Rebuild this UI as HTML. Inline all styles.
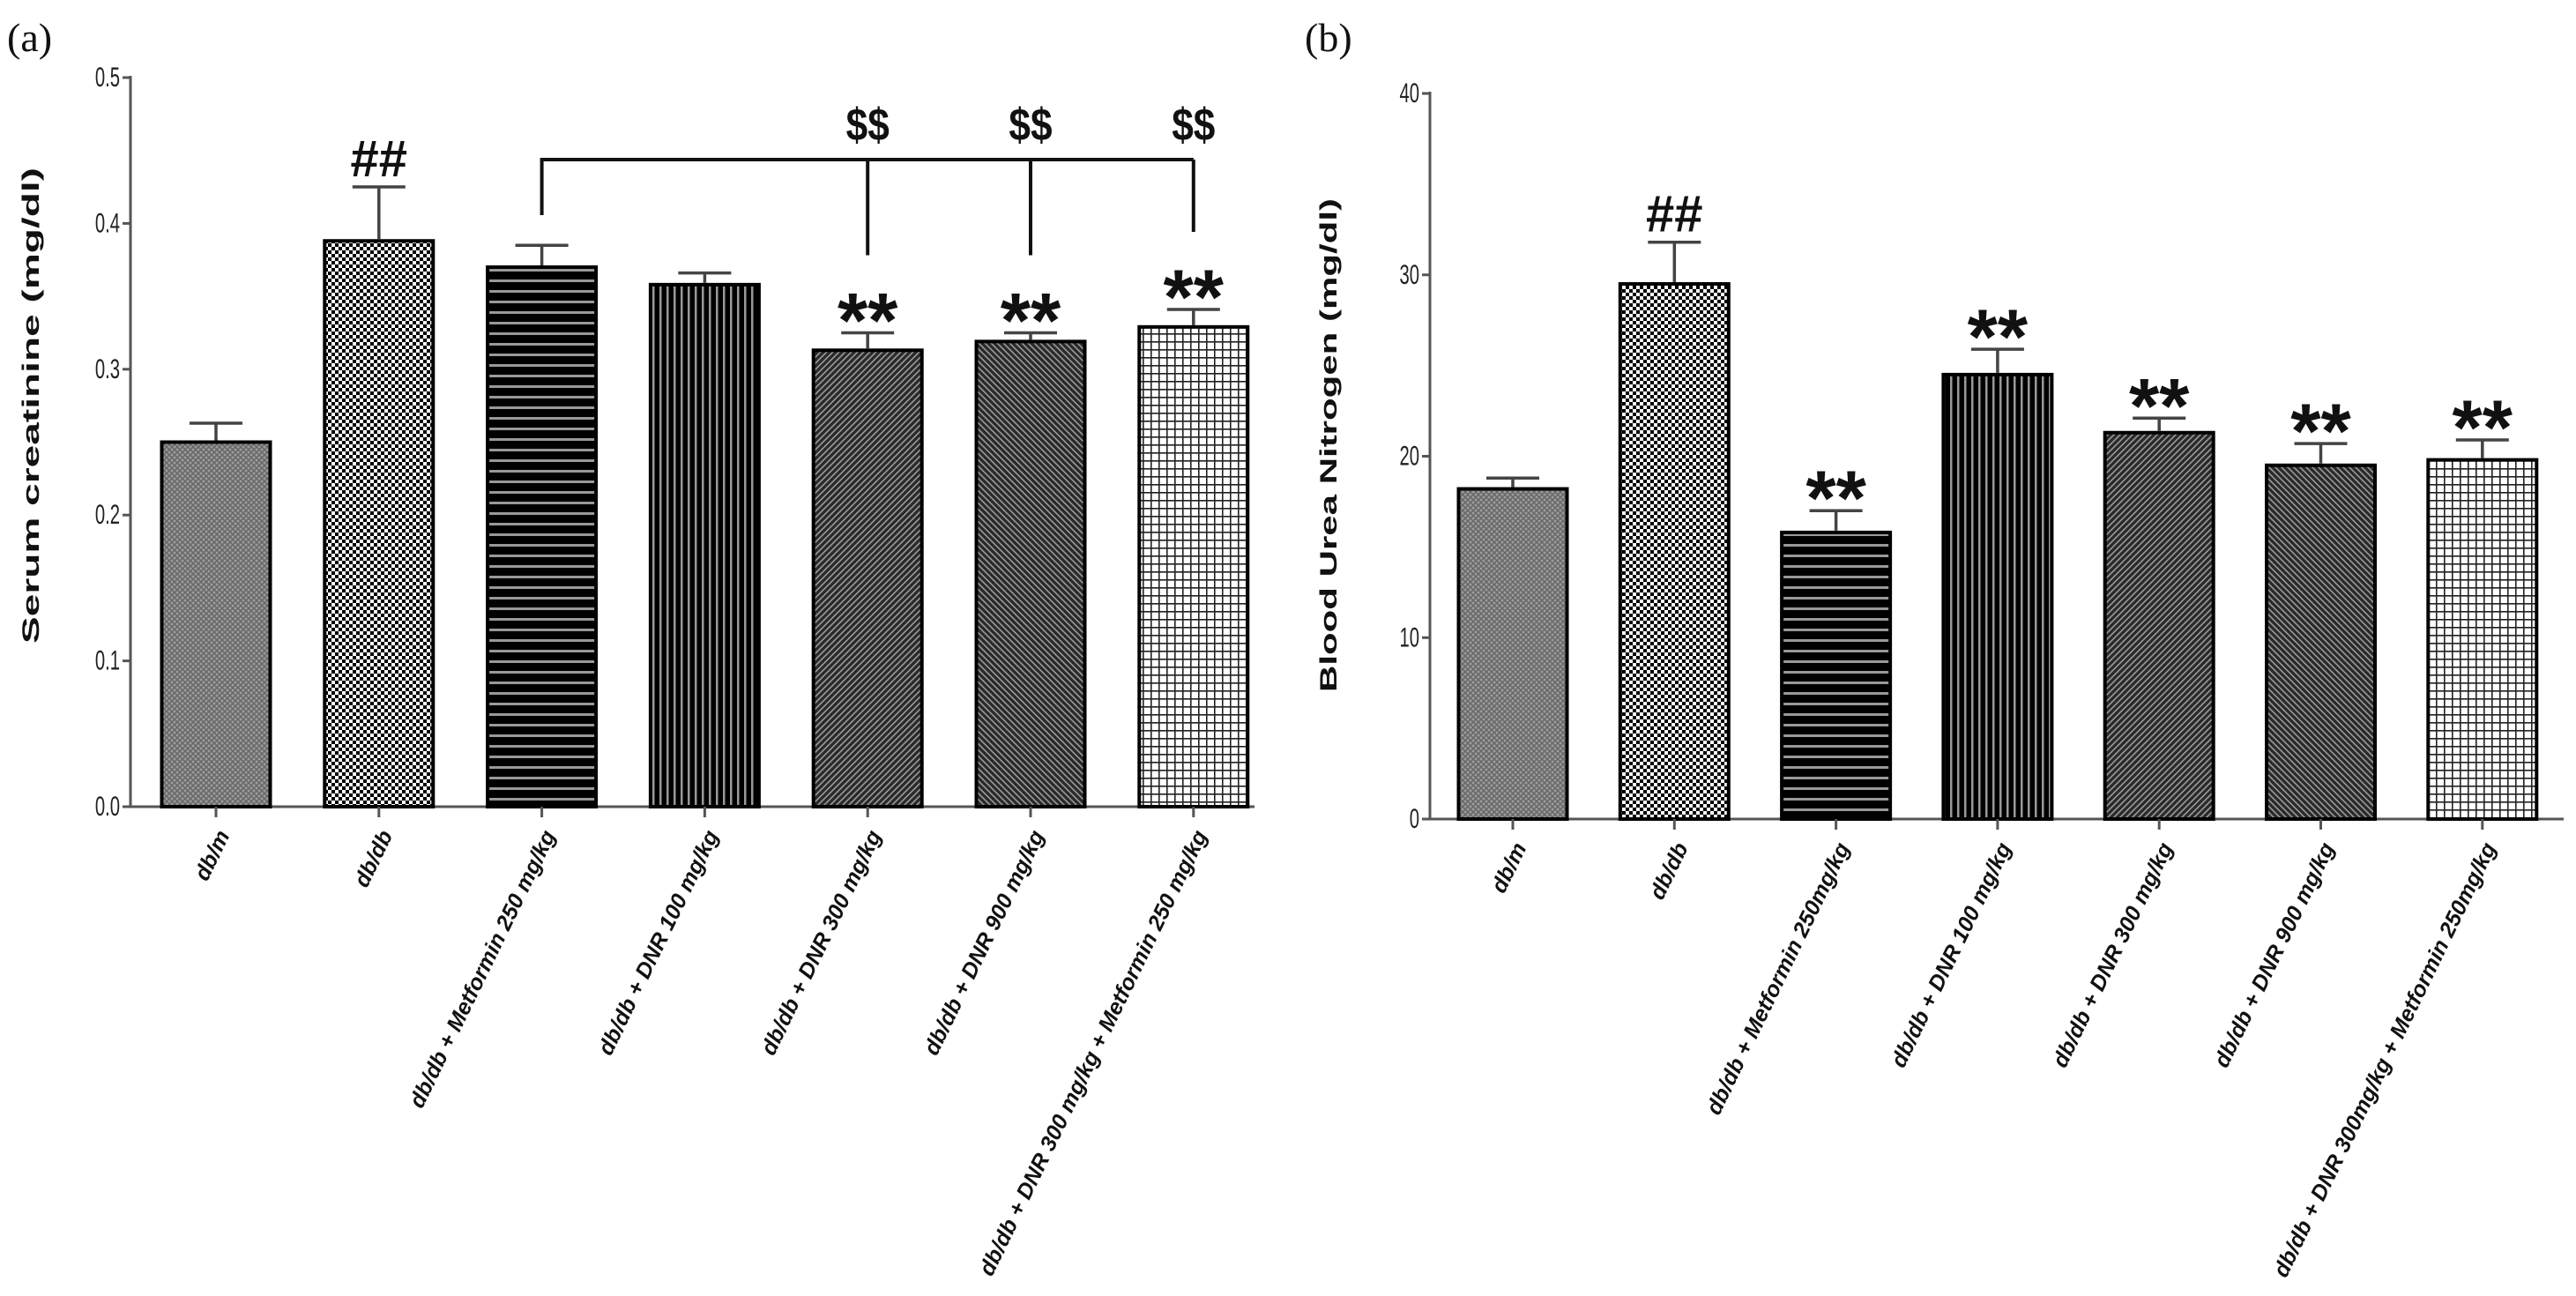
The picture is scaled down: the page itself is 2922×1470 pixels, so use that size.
<!DOCTYPE html>
<html><head><meta charset="utf-8"><style>
html,body{margin:0;padding:0;background:#fff;}
svg{display:block;}
</style></head><body>
<svg id="chart" width="2922" height="1470" viewBox="0 0 2922 1470" xmlns="http://www.w3.org/2000/svg">
<defs>
<pattern id="p0" width="6" height="6" patternUnits="userSpaceOnUse"><rect width="6" height="6" fill="#9a9a9a"/><path d="M0 6L6 0M0 0L6 6" stroke="#666" stroke-width="1.4"/></pattern>
<pattern id="p1" width="8" height="8" patternUnits="userSpaceOnUse"><rect width="8" height="8" fill="#fff"/><rect width="4" height="4" fill="#000"/><rect x="4" y="4" width="4" height="4" fill="#000"/></pattern>
<pattern id="p2" width="12" height="12" patternUnits="userSpaceOnUse"><rect width="12" height="12" fill="#000"/><rect y="5" width="12" height="3" fill="#999"/></pattern>
<pattern id="p3" width="8" height="8" patternUnits="userSpaceOnUse"><rect width="8" height="8" fill="#000"/><rect x="4" width="2.5" height="8" fill="#999"/></pattern>
<pattern id="p4" width="7" height="7" patternUnits="userSpaceOnUse"><rect width="7" height="7" fill="#2a2a2a"/><path d="M-1 8L8 -1M-2 2L2 -2M5 9L9 5" stroke="#9a9a9a" stroke-width="1.6"/></pattern>
<pattern id="p5" width="7" height="7" patternUnits="userSpaceOnUse"><rect width="7" height="7" fill="#2a2a2a"/><path d="M-1 -1L8 8M5 -2L9 2M-2 5L2 9" stroke="#9a9a9a" stroke-width="1.6"/></pattern>
<pattern id="p6" width="9" height="9" patternUnits="userSpaceOnUse"><rect width="9" height="9" fill="#fff"/><path d="M0 0.8H9M0.8 0V9" stroke="#222" stroke-width="1.6"/></pattern>
</defs>
<g id="root"></g>
</svg>
<script>
const categoriesA = ["db/m","db/db","db/db + Metformin 250 mg/kg","db/db + DNR 100 mg/kg","db/db + DNR 300 mg/kg","db/db + DNR 900 mg/kg","db/db + DNR 300 mg/kg + Metformin 250 mg/kg"];
const categoriesB = ["db/m","db/db","db/db + Metformin 250mg/kg","db/db + DNR 100 mg/kg","db/db + DNR 300 mg/kg","db/db + DNR 900 mg/kg","db/db + DNR 300mg/kg + Metformin 250mg/kg"];
const valuesA = [0.250,0.388,0.370,0.358,0.313,0.319,0.329];
const errorsA = [0.013,0.037,0.015,0.008,0.012,0.006,0.012];
const valuesB = [18.2,29.5,15.8,24.5,21.3,19.5,19.8];
const errorsB = [0.6,2.3,1.2,1.4,0.8,1.2,1.1];
const marksA = ["","##","","","**","**","**"];
const marksB = ["","##","**","**","**","**","**"];
const dollarA = [false,false,false,false,true,true,true];
const ticksA = ["0.0","0.1","0.2","0.3","0.4","0.5"];
const tickValsA = [0,0.1,0.2,0.3,0.4,0.5];
const ticksB = ["0","10","20","30","40"];
const tickValsB = [0,10,20,30,40];
const NS = "http://www.w3.org/2000/svg";
const root = document.getElementById("root");
function mk(tag, attrs, parent, text){
  const e = document.createElementNS(NS, tag);
  for (const k in attrs) e.setAttribute(k, attrs[k]);
  if (text !== undefined) e.textContent = text;
  (parent||root).appendChild(e);
  return e;
}
function panel(cfg){
  const g = mk("g", {});
  
  
  const y = v => cfg.y0 - (v - 0) / cfg.max * (cfg.y0 - cfg.yTop);
  const x = i => cfg.x0 + cfg.step * i;
  const ya = mk("line", {x1:cfg.ax, y1:cfg.yTop-2, x2:cfg.ax, y2:cfg.y0, stroke:"#555", "stroke-width":3}, g);
  
  
  const xa = mk("line", {x1:cfg.ax, y1:cfg.y0, x2:cfg.xEnd, y2:cfg.y0, stroke:"#555", "stroke-width":3}, g);
  
  
  cfg.tickVals.forEach((tv, i) => {
    const t = mk("line", {x1:cfg.ax-9, y1:y(tv), x2:cfg.ax, y2:y(tv), stroke:"#555", "stroke-width":3}, g);
    
    
    const lb = mk("text", {x:0, y:0, "font-family":"Liberation Sans, sans-serif", "font-size":26, "text-anchor":"end", fill:"#222",
      transform:`translate(${cfg.ax-12},${y(tv)+10}) scale(0.78,1.2)`}, g, cfg.ticks[i]);
    
    
  });
  const yt = mk("text", {x:0, y:0, "font-family":"Liberation Sans, sans-serif", "font-size":27, "font-weight":"bold", "text-anchor":"middle", fill:"#111",
    transform:`translate(${cfg.titleX},${cfg.titleY}) rotate(-90)`, textLength:cfg.titleLen, lengthAdjust:"spacingAndGlyphs"}, g, cfg.title);
  
  
  const pl = mk("text", {x:cfg.labelX, y:58, "font-family":"Liberation Serif, serif", "font-size":46, fill:"#111"}, g, cfg.label);
  
  
  cfg.values.forEach((v, i) => {
    const cx = x(i);
    const bw = 123;
    const bar = mk("rect", {x:cx-bw/2, y:y(v), width:bw, height:cfg.y0-y(v), fill:`url(#p${i})`, stroke:"#000", "stroke-width":4}, g);
    
    
    const et = y(v + cfg.errors[i]);
    const eb = mk("path", {d:`M${cx} ${y(v)-2}V${et}M${cx-30} ${et}H${cx+30}`, stroke:"#444", "stroke-width":3.5, fill:"none"}, g);
    
    
    const tk = mk("line", {x1:cx, y1:cfg.y0, x2:cx, y2:cfg.y0+12, stroke:"#555", "stroke-width":3}, g);
    
    
    const xl = mk("text", {x:0, y:0, "font-family":"Liberation Sans, sans-serif", "font-size":25, "font-weight":"bold", "font-style":"italic", "text-anchor":"end", fill:"#111",
      transform:`translate(${cx+16},${cfg.y0+32}) rotate(-64)`}, g, cfg.cats[i]);
    
    
    const m = cfg.marks[i];
    if (m === "##") {
      const s = mk("text", {x:cx, y:et-12, "font-family":"Liberation Sans, sans-serif", "font-size":58, "font-weight":"bold", "text-anchor":"middle", fill:"#111"}, g, m);
      
      
    } else if (m === "**") {
      const s = mk("text", {x:cx, y:et+16, "font-family":"Liberation Sans, sans-serif", "font-size":88, "font-weight":"bold", "text-anchor":"middle", fill:"#111"}, g, m);
      
      
    }
  });
  return {x, y, g};
}
const A = panel({name:"panel-a", label:"(a)", labelX:8, ax:148, y0:915, yTop:88, max:0.5, x0:245, step:184.8, xEnd:1423,
  values:valuesA, errors:errorsA, marks:marksA, cats:categoriesA, ticks:ticksA, tickVals:tickValsA,
  title:"Serum creatinine (mg/dl)", titleX:44, titleY:460, titleLen:540});
const B = panel({name:"panel-b", label:"(b)", labelX:1480, ax:1622, y0:929, yTop:106, max:40, x0:1716, step:183.3, xEnd:2908,
  values:valuesB, errors:errorsB, marks:marksB, cats:categoriesB, ticks:ticksB, tickVals:tickValsB,
  title:"Blood Urea Nitrogen (mg/dl)", titleX:1516, titleY:505, titleLen:560});
const brY = 181;
let d = `M${A.x(2)} 244V${brY}H${A.x(6)}`;
const br = mk("path", {d:d, stroke:"#111", "stroke-width":4, fill:"none"}, A.g);


dollarA.forEach((on, i) => {
  if (!on) return;
  const cx = A.x(i);
  const endY = A.y(valuesA[i] + errorsA[i]) - 88;
  const l = mk("line", {x1:cx, y1:brY, x2:cx, y2:endY, stroke:"#111", "stroke-width":4}, A.g);
  
  
  const t = mk("text", {x:cx, y:brY-22, "font-family":"Liberation Sans, sans-serif", "font-size":52, "font-weight":"bold", "text-anchor":"middle", fill:"#111", transform:`translate(${cx*0.15},0) scale(0.85,1)`}, A.g, "$$");
  
  
});
</script>
</body></html>
